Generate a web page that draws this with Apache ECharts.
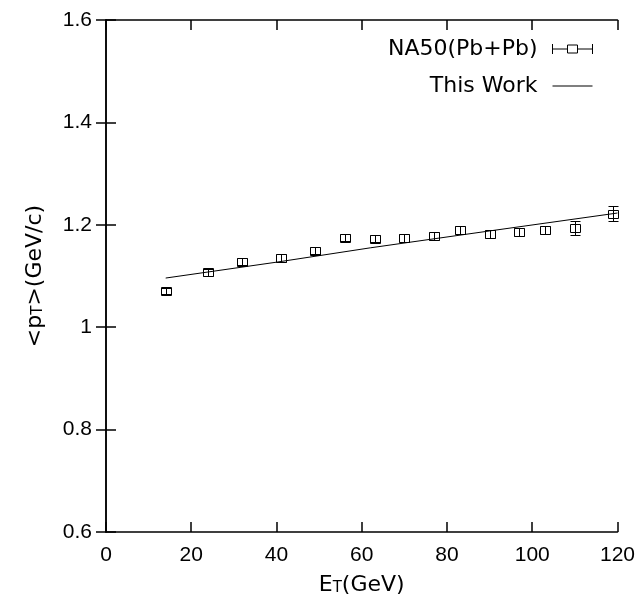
<!DOCTYPE html>
<html>
<head>
<meta charset="utf-8">
<script src="https://cdn.jsdelivr.net/npm/echarts@6/dist/echarts.min.js"></script>
<style>html,body{margin:0;padding:0;background:#fff}#c{width:638px;height:603px}</style>
</head>
<body>
<div id="c"></div>
<script>
// NA50 (Pb+Pb) measured points
const na50E   = [14, 24, 32, 41, 49, 56, 63, 70, 77, 83, 90, 97, 103, 110, 119];
const na50Pt  = [1.071, 1.107, 1.128, 1.135, 1.149, 1.175, 1.173, 1.174, 1.178, 1.190, 1.182, 1.186, 1.190, 1.194, 1.222];
const na50Err = [0.006, 0.007, 0.007, 0.007, 0.007, 0.007, 0.007, 0.008, 0.007, 0.007, 0.007, 0.008, 0.008, 0.013, 0.015];
// "This Work" curve, read at sampled E_T
const workE  = [14, 40, 62, 90, 120];
const workPt = [1.096, 1.127, 1.155, 1.188, 1.223];
// axis ticks
const xTicks = [0, 20, 40, 60, 80, 100, 120];
const yTicks = [0.6, 0.8, 1.0, 1.2, 1.4, 1.6];

const FONT = 'Liberation Sans';
const FONT2 = 'DejaVu Sans';
const chart = echarts.init(document.getElementById('c'));

const na50Data = na50E.map((e, i) => [e, na50Pt[i], na50Err[i]]);
const workData = workE.map((e, i) => [e, workPt[i]]);

function renderErr(params, api) {
  const x = api.value(0), y = api.value(1), e = api.value(2);
  const c = api.coord([x, y]);
  const hi = api.coord([x, y + e]);
  const lo = api.coord([x, y - e]);
  const cx = Math.round(c[0]) + 0.5, cy = Math.round(c[1]) + 0.5;
  const hy = Math.round(hi[1]) + 0.5, ly = Math.round(lo[1]) + 0.5;
  const w = 5, h = 4;
  const st = { stroke: '#000', fill: null, lineWidth: 1 };
  return {
    type: 'group',
    children: [
      { type: 'rect', shape: { x: cx - w, y: cy - h, width: 2 * w, height: 2 * h }, style: st },
      { type: 'line', shape: { x1: cx, y1: hy, x2: cx, y2: ly }, style: st },
      { type: 'line', shape: { x1: cx - w, y1: hy, x2: cx + w, y2: hy }, style: st },
      { type: 'line', shape: { x1: cx - w, y1: ly, x2: cx + w, y2: ly }, style: st }
    ]
  };
}

const axisCommon = {
  type: 'value',
  axisLine: { show: true, lineStyle: { color: '#000', width: 1.5 } },
  axisTick: { show: true, inside: true, length: 10, lineStyle: { color: '#000', width: 1.5 } },
  splitLine: { show: false },
  minorTick: { show: false }
};
const labelStyle = { color: '#000', fontFamily: FONT, fontSize: 21 };
const nameRich = {
  n: { fontFamily: FONT2, fontSize: 22, lineHeight: 30, verticalAlign: 'bottom', color: '#000' },
  s: { fontFamily: FONT2, fontSize: 15, lineHeight: 15, verticalAlign: 'bottom', color: '#000' }
};

chart.setOption({
  animation: false,
  backgroundColor: '#fff',
  grid: { left: 106, right: 20, top: 20, bottom: 71, containLabel: false },
  legend: {
    orient: 'vertical',
    right: 40,
    top: 33,
    align: 'right',
    itemWidth: 40,
    itemHeight: 10,
    itemGap: 15,
    symbolKeepAspect: true,
    textStyle: { color: '#000', fontFamily: FONT2, fontSize: 22, lineHeight: 22, padding: [0, 10, 0, 0] },
    data: [
      {
        name: 'NA50(Pb+Pb)',
        icon: 'path://M0,0L0,10M0,5L15,5M25,5L40,5M40,0L40,10M15,1L25,1L25,9L15,9Z',
        itemStyle: { color: 'rgba(0,0,0,0)', borderColor: '#000', borderWidth: 1 }
      },
      {
        name: 'This Work',
        icon: 'path://M0,0L40,0L40,1L0,1Z',
        itemStyle: { color: '#000', borderWidth: 0 }
      }
    ]
  },
  xAxis: [
    Object.assign({}, axisCommon, {
      min: xTicks[0], max: xTicks[xTicks.length - 1], interval: xTicks[1] - xTicks[0],
      position: 'bottom',
      axisLabel: Object.assign({ margin: 13 }, labelStyle),
      name: '{n|E}{s|T}{n|(GeV)}',
      nameLocation: 'middle',
      nameGap: 34,
      nameTextStyle: { color: '#000', rich: nameRich }
    }),
    Object.assign({}, axisCommon, {
      min: xTicks[0], max: xTicks[xTicks.length - 1], interval: xTicks[1] - xTicks[0],
      position: 'top',
      axisLabel: { show: false }
    })
  ],
  yAxis: [
    Object.assign({}, axisCommon, {
      min: yTicks[0], max: yTicks[yTicks.length - 1], interval: 0.2,
      position: 'left',
      axisLabel: Object.assign({ margin: 14 }, labelStyle),
      name: '{n|<p}{s|T}{n|>(GeV/c)}',
      nameLocation: 'middle',
      nameGap: 60,
      nameRotate: 90,
      nameTextStyle: { color: '#000', rich: nameRich }
    }),
    Object.assign({}, axisCommon, {
      min: yTicks[0], max: yTicks[yTicks.length - 1], interval: 0.2,
      position: 'right',
      axisLabel: { show: false }
    })
  ],
  series: [
    {
      name: 'NA50(Pb+Pb)',
      type: 'custom',
      renderItem: renderErr,
      encode: { x: 0, y: 1 },
      itemStyle: { color: '#000' },
      data: na50Data,
      z: 3
    },
    {
      name: 'This Work',
      type: 'line',
      symbol: 'none',
      showSymbol: false,
      lineStyle: { color: '#000', width: 1 },
      itemStyle: { color: '#000' },
      data: workData,
      z: 2
    }
  ]
});
</script>
</body>
</html>
